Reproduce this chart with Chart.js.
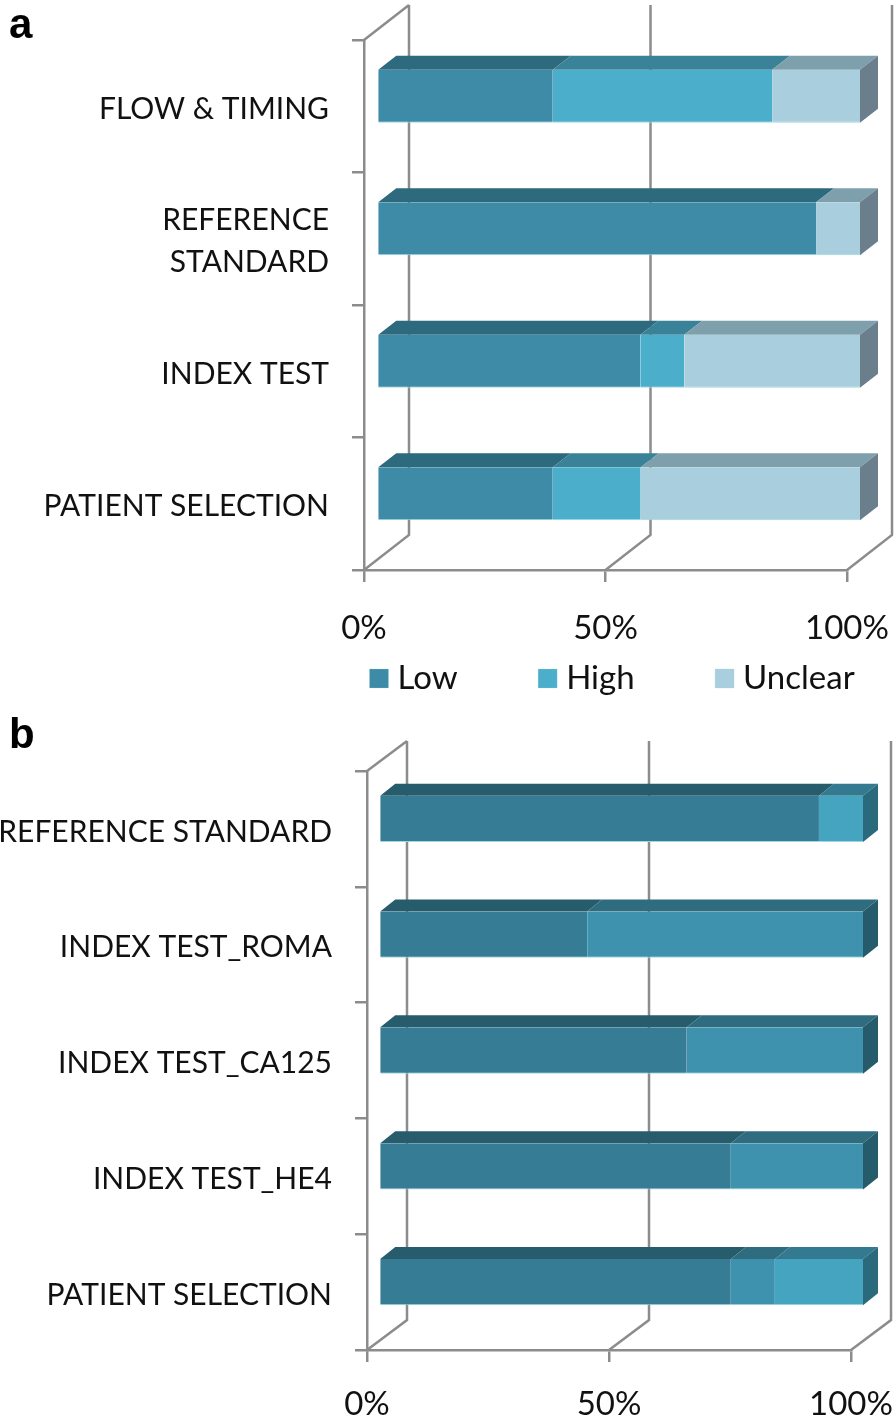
<!DOCTYPE html>
<html>
<head>
<meta charset="utf-8">
<title>Risk of bias and applicability</title>
<script src="https://cdn.jsdelivr.net/npm/chart.js@4"></script>
<style>
  html, body { margin: 0; padding: 0; background: #fff; }
  #page { position: relative; width: 896px; height: 1419px; overflow: hidden; }
  .wrap { position: absolute; left: 0; width: 896px; }
  .panel { position: absolute; left: 9px; font: bold 42px "Liberation Sans", sans-serif; color: #000; line-height: 1; }
</style>
</head>
<body>
<div id="page">
  <div class="wrap" style="top:0;height:781px"><canvas id="chartA" width="896" height="781"></canvas></div>
  <div class="wrap" style="top:710px;height:709px"><canvas id="chartB" width="896" height="709"></canvas></div>
  <div class="panel" style="top:3px">a</div>
  <div class="panel" style="top:713px">b</div>
</div>
<script>
const FONT = 'Lato';
const AXIS_GREY = '#8c8c8c';
const TICKS_PCT = [0, 50, 100];

// panel a
const catsA = ['FLOW & TIMING', ['REFERENCE', 'STANDARD'], 'INDEX TEST', 'PATIENT SELECTION'];
const lowA = [36.4, 90.9, 54.5, 36.4];
const highA = [45.4, 0, 9.1, 18.2];
const unclearA = [18.2, 9.1, 36.4, 45.4];

// panel b
const catsB = ['REFERENCE STANDARD', 'INDEX TEST_ROMA', 'INDEX TEST_CA125', 'INDEX TEST_HE4', 'PATIENT SELECTION'];
const lowB = [90.9, 43, 63.6, 72.7, 72.7];
const unclearB = [0, 57, 36.4, 27.3, 9.1];
const highB = [9.1, 0, 0, 0, 18.2];

// 3D look: back wall offset, bar offset from the front plane, bar depth
const cube3d = {
  id: 'cube3d',
  afterLayout(chart, args, o) {
    if (chart.legend && o.legendAt) {
      chart.legend.left = o.legendAt[0];
      chart.legend.top = o.legendAt[1];
      chart.legend.right = chart.width + 300;
    }
  },
  beforeDatasetsDraw(chart, args, o) {
    const ctx = chart.ctx, x = chart.scales.x, y = chart.scales.y;
    ctx.save();
    ctx.strokeStyle = AXIS_GREY;
    ctx.lineWidth = 2.5;
    ctx.beginPath();
    TICKS_PCT.forEach(t => {
      const px = x.getPixelForValue(t);
      ctx.moveTo(px, y.bottom);
      ctx.lineTo(px + o.wall[0], y.bottom - o.wall[1]);
      ctx.lineTo(px + o.wall[0], y.top - o.wall[1]);
    });
    ctx.moveTo(x.left, y.top);
    ctx.lineTo(x.left + o.wall[0], y.top - o.wall[1]);
    ctx.stroke();

    // bars sit a little way back from the front plane
    ctx.translate(o.shift[0], -o.shift[1]);
    chart.data.datasets.forEach((ds, i) => {
      chart.getDatasetMeta(i).data.forEach((el, j) => {
        if (!ds.data[j]) return;
        const p = el.getProps(['x', 'y', 'base', 'height'], true);
        const top = p.y - p.height / 2, bottom = p.y + p.height / 2;
        ctx.fillStyle = o.topFaces[i];
        ctx.beginPath();
        ctx.moveTo(p.base, top);
        ctx.lineTo(p.x, top);
        ctx.lineTo(p.x + o.depth[0], top - o.depth[1]);
        ctx.lineTo(p.base + o.depth[0], top - o.depth[1]);
        ctx.closePath();
        ctx.fill();
        const isLast = !chart.data.datasets.slice(i + 1).some(d => d.data[j]);
        if (isLast) {
          ctx.fillStyle = o.sideFaces[i];
          ctx.beginPath();
          ctx.moveTo(p.x, top);
          ctx.lineTo(p.x + o.depth[0], top - o.depth[1]);
          ctx.lineTo(p.x + o.depth[0], bottom - o.depth[1]);
          ctx.lineTo(p.x, bottom);
          ctx.closePath();
          ctx.fill();
        }
      });
    });
  },
  afterDatasetsDraw(chart) {
    chart.ctx.restore();
  }
};

function makeChart(id, cats, datasets, opts) {
  return new Chart(document.getElementById(id), {
    type: 'bar',
    plugins: [cube3d],
    data: { labels: cats, datasets },
    options: {
      indexAxis: 'y',
      responsive: false,
      animation: false,
      layout: { padding: { top: opts.top, right: opts.right, left: 0, bottom: 0 } },
      datasets: { bar: { barPercentage: 1, categoryPercentage: 0.4, clip: false } },
      scales: {
        x: {
          stacked: true, min: 0, max: 100,
          afterFit(s) { s.height = opts.xHeight; s.paddingRight = 0; s.paddingLeft = 0; },
          grid: { drawOnChartArea: false, color: AXIS_GREY, lineWidth: 2.5, tickLength: 12 },
          border: { color: AXIS_GREY, width: 2.5 },
          ticks: {
            stepSize: 50, maxRotation: 0, padding: opts.xPad, color: '#111',
            font: { family: FONT, size: 33 },
            callback: v => v + '%'
          }
        },
        y: {
          stacked: true,
          afterFit(s) { s.width = opts.yWidth; s.paddingTop = 0; s.paddingBottom = 0; },
          grid: { drawOnChartArea: false, color: AXIS_GREY, lineWidth: 2.5, tickLength: 12 },
          border: { color: AXIS_GREY, width: 2.5 },
          ticks: {
            padding: 23, labelOffset: 3, color: '#111', autoSkip: false,
            font: { family: FONT, size: 30, lineHeight: 1.4 }
          }
        }
      },
      plugins: {
        tooltip: { enabled: false },
        legend: opts.legend,
        cube3d: opts.cube
      }
    }
  });
}

function series(label, data, color) {
  return {
    label, data, backgroundColor: color,
    borderColor: '#9fd6e3', borderWidth: { bottom: 1 }, borderSkipped: false
  };
}

document.fonts.load('30px Lato').finally(() => {
  makeChart('chartA', catsA, [
    series('Low', lowA, '#3d8ba6'),
    series('High', highA, '#4baeca'),
    series('Unclear', unclearA, '#a9cedd')
  ], {
    top: 40, right: 49, yWidth: 364, xHeight: 80, xPad: 27,
    legend: {
      position: 'bottom',
      align: 'start',
      labels: {
        usePointStyle: true, pointStyle: 'rect', boxWidth: 4, boxHeight: 19,
        padding: 88, color: '#111', font: { family: FONT, size: 33 }
      }
    },
    cube: {
      legendAt: [289, 574],
      wall: [45, 35], shift: [13, 10], depth: [18, 14],
      topFaces: ['#2e6a7e', '#3a8298', '#7e9fac'],
      sideFaces: ['#2e6a7e', '#3a8298', '#6a7f8b']
    }
  });

  makeChart('chartB', catsB, [
    series('Low', lowB, '#367c94'),
    series('Unclear', unclearB, '#3e92ae'),
    series('High', highB, '#45a5c0')
  ], {
    top: 61, right: 45, yWidth: 367, xHeight: 69, xPad: 23,
    legend: { display: false },
    cube: {
      wall: [40, 30], shift: [12, 10], depth: [15, 12],
      topFaces: ['#275c6c', '#2f6c80', '#33798f'],
      sideFaces: ['#275c6c', '#255b6b', '#2b6a7c']
    }
  });
});
</script>
</body>
</html>
